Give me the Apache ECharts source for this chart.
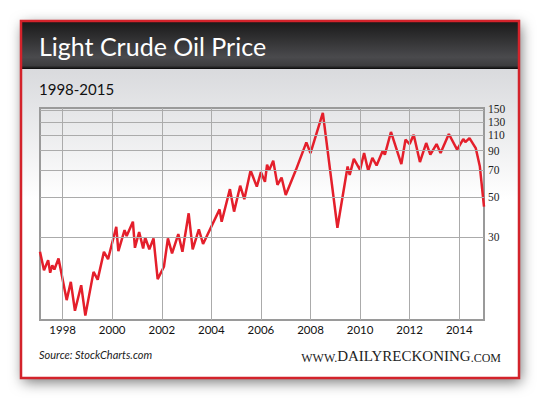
<!DOCTYPE html>
<html>
<head>
<meta charset="utf-8">
<title>Light Crude Oil Price</title>
<script src="https://cdn.jsdelivr.net/npm/echarts@6/dist/echarts.min.js"></script>
<style>
html,body{margin:0;padding:0;background:#fff;}
#main{width:540px;height:399px;}
</style>
</head>
<body>
<div id="main"></div>
<script>
// months of the turning points
var months = ['1997-02','1997-04','1997-06','1997-07','1997-08','1997-09','1997-11',
    '1998-03','1998-05','1998-07','1998-10','1998-12','1999-04','1999-06','1999-09','1999-11',
    '2000-03','2000-04','2000-07','2000-08','2000-11','2000-12','2001-02','2001-04','2001-05',
    '2001-07','2001-09','2001-11','2002-02','2002-04','2002-06','2002-09','2002-11','2003-02',
    '2003-04','2003-07','2003-09','2004-05','2004-06','2004-10','2004-12','2005-03','2005-05',
    '2005-08','2005-11','2006-01','2006-03','2006-04','2006-05','2006-07','2006-09','2006-11',
    '2007-01','2007-06','2007-11','2008-01','2008-07','2009-02','2009-07','2009-08','2009-10',
    '2010-01','2010-03','2010-05','2010-07','2010-09','2010-12','2011-01','2011-04','2011-09',
    '2011-11','2012-01','2012-03','2012-06','2012-09','2012-11','2013-02','2013-04','2013-08',
    '2013-12','2014-03','2014-04','2014-06','2014-09','2014-11','2015-01'];
// price, $ per barrel
var prices = [24.8,19.6,22.3,19.0,20.9,19.8,22.8,
    13.4,16.9,11.7,16.2,11.0,19.2,17.4,24.8,22.6,
    34.1,25.0,32.7,30.3,36.4,26.1,31.9,25.9,29.8,
    25.6,29.4,17.5,20.5,29.4,24.3,31.1,24.8,40.5,
    25.6,33.0,27.4,42.6,36.4,55.1,41.4,57.6,48.5,
    69.9,56.9,68.4,60.5,75.2,70.0,79.1,58.2,63.9,
    51.2,70.5,100,87.3,145.6,33.7,73.5,66.1,81.1,
    70.5,87.3,69.7,82.0,74.5,89.9,85.5,114.2,75.8,
    103.5,97.9,110.3,77.8,99.2,85.5,97.9,87.3,111.3,
    91.1,104.4,100.4,105.7,93.0,73.5,44.1];
// axis ticks
var yearTicks = [1998,2000,2002,2004,2006,2008,2010,2012,2014];
var priceTicks = [30,50,70,90,110,130,150];

var myChart = echarts.init(document.getElementById('main'), null, {renderer: 'svg'});

var data = months.map(function (m, i) { return [m, prices[i]]; });
var gridStyle = {color: '#ababab', width: 1, type: 'solid'};

var option = {
    animation: false,
    grid: {left: 40, top: 108, right: 56, bottom: 79, show: true, borderColor: '#9a9a9a', borderWidth: 2},
    xAxis: {
        type: 'time',
        min: new Date(1997, 1, 1).getTime(),
        max: new Date(2015, 0, 1).getTime(),
        axisLine: {show: false},
        axisTick: {show: false},
        axisLabel: {show: false},
        splitLine: {show: false}
    },
    yAxis: {
        type: 'log',
        logBase: 10,
        position: 'right',
        min: 10.4,
        max: 155,
        axisLine: {show: false},
        axisTick: {show: false},
        axisLabel: {show: false},
        splitLine: {show: false}
    },
    series: [{
        // grid lines and tick labels, placed through the axes
        type: 'line',
        data: [],
        z: 1,
        silent: true,
        markLine: {
            silent: true,
            symbol: ['none', 'none'],
            animation: false,
            lineStyle: gridStyle,
            emphasis: {disabled: true},
            data: yearTicks.map(function (y) {
                return {
                    xAxis: new Date(y, 0, 1).getTime(),
                    label: {
                        position: 'start', distance: 3,
                        fontFamily: 'Lato', fontSize: 11.5, color: '#111',
                        formatter: String(y)
                    }
                };
            }).concat(priceTicks.map(function (p) {
                return {
                    yAxis: p,
                    label: {
                        position: 'end', distance: 4,
                        // top two labels sit close together, nudge them apart
                        offset: [0, p === 150 ? -1.5 : (p === 130 ? 0.5 : 0)],
                        fontFamily: 'Liberation Serif', fontSize: 11.5, lineHeight: 10, color: '#222',
                        formatter: String(p)
                    }
                };
            }))
        }
    }, {
        type: 'line',
        data: data,
        z: 3,
        symbol: 'none',
        lineStyle: {color: '#e41f2b', width: 2.5}
    }],
    graphic: [
        // white card with shadow
        {type: 'rect', z: -10, shape: {x: 21, y: 21, width: 498, height: 357},
            style: {fill: '#fff', shadowBlur: 14, shadowOffsetX: 2, shadowOffsetY: 4, shadowColor: 'rgba(0,0,0,0.55)'}},
        // dark header
        {type: 'rect', z: -9, shape: {x: 22, y: 22, width: 496, height: 47},
            style: {fill: {type: 'linear', x: 0, y: 0, x2: 0, y2: 1, colorStops: [
                {offset: 0, color: '#1a1a1a'}, {offset: 0.75, color: '#4a4a4d'},
                {offset: 0.93, color: '#3c3c3e'}, {offset: 1, color: '#080808'}]}}},
        // light band under header
        {type: 'rect', z: -9, shape: {x: 22, y: 69, width: 496, height: 130},
            style: {fill: {type: 'linear', x: 0, y: 0, x2: 0, y2: 1, colorStops: [
                {offset: 0, color: '#d9dadd'}, {offset: 1, color: '#ffffff'}]}}},
        // red border
        {type: 'rect', z: -8, shape: {x: 21, y: 21, width: 498, height: 357},
            style: {fill: 'none', stroke: '#d3232b', lineWidth: 2.5}},
        {type: 'text', z: 10, x: 39, y: 46,
            style: {text: 'Light Crude Oil Price', fill: '#fff', font: '25px Lato', verticalAlign: 'middle'}},
        {type: 'text', z: 10, x: 39, y: 89,
            style: {text: '1998-2015', fill: '#111', font: '15px Lato', verticalAlign: 'middle'}},
        {type: 'text', z: 10, x: 39, y: 354,
            style: {text: 'Source: StockCharts.com', fill: '#222', font: 'italic 11px Lato', verticalAlign: 'middle'}},
        {type: 'text', z: 10, x: 501, y: 356,
            style: {
                text: '{s|WWW.}{b|DAILYRECKONING}{s|.COM}',
                align: 'right', verticalAlign: 'middle',
                rich: {
                    s: {fontFamily: 'Liberation Serif', fontSize: 12, fill: '#222', verticalAlign: 'bottom'},
                    b: {fontFamily: 'Liberation Serif', fontSize: 15, fill: '#222', verticalAlign: 'bottom'}
                }
            }}
    ]
};
myChart.setOption(option);
</script>
</body>
</html>
